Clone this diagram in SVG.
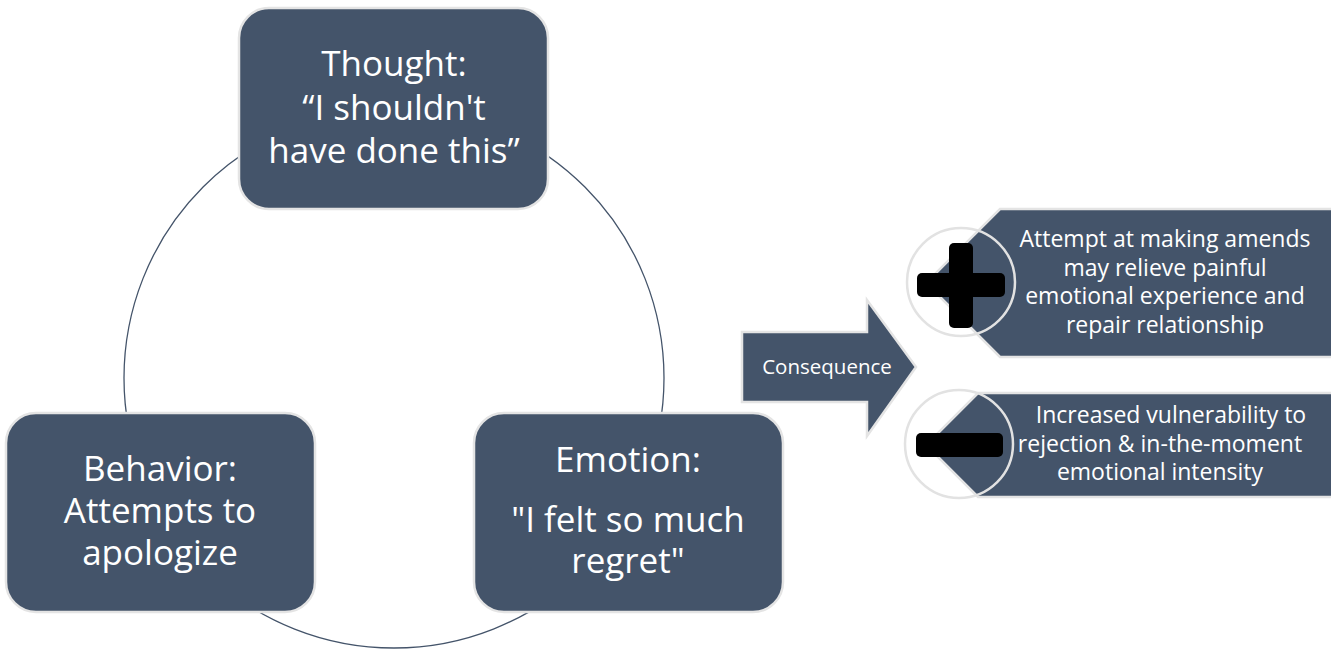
<svg xmlns="http://www.w3.org/2000/svg" width="1331" height="651" viewBox="0 0 1331 651">
  <style>
    .box { fill: #44546a; stroke: #e4e4e4; stroke-width: 2.5; }
    .big { font-family: "Open Sans", "Noto Sans", sans-serif; font-size: 35px; fill: #ffffff; text-anchor: middle; }
    .mid { font-family: "Open Sans", "Noto Sans", sans-serif; font-size: 23px; fill: #ffffff; text-anchor: middle; }
    .small { font-family: "Open Sans", "Noto Sans", sans-serif; font-size: 20.5px; fill: #ffffff; text-anchor: middle; }
    .ring { fill: none; stroke: #e2e2e2; stroke-width: 2.5; }
    .sign { fill: #000000; }
    .cycle { fill: none; stroke: #44546a; stroke-width: 1.3; }
  </style>
  <rect width="1331" height="651" fill="#ffffff"/>

  <!-- cycle linking the three boxes -->
  <g id="connectors">
    <circle class="cycle" cx="394" cy="378" r="270"/>
  </g>

  <g id="thought">
    <rect class="box" x="239" y="8" width="309" height="201" rx="30"/>
    <text class="big" x="394" y="76">Thought:</text>
    <text class="big" x="394" y="120">“I shouldn't</text>
    <text class="big" x="394" y="163">have done this”</text>
  </g>

  <g id="behavior">
    <rect class="box" x="6" y="413" width="309" height="199" rx="30"/>
    <text class="big" x="160" y="481">Behavior:</text>
    <text class="big" x="160" y="523">Attempts to</text>
    <text class="big" x="160" y="565">apologize</text>
  </g>

  <g id="emotion">
    <rect class="box" x="474" y="413" width="309" height="199" rx="30"/>
    <text class="big" x="628" y="472">Emotion:</text>
    <text class="big" x="628" y="532">"I felt so much</text>
    <text class="big" x="628" y="573">regret"</text>
  </g>

  <g id="consequence">
    <polygon class="box" stroke-width="2" points="742,332 867,332 867,300 916,367 867,436 867,402 742,402"/>
    <text class="small" x="827" y="374">Consequence</text>
  </g>

  <g id="positive">
    <polygon class="box" stroke-width="2" points="1000,209 1336,209 1336,357 1000,357 926,283"/>
    <circle class="ring" cx="961" cy="282" r="54"/>
    <rect class="sign" x="917" y="273" width="88" height="24" rx="5"/>
    <rect class="sign" x="949" y="243" width="24" height="85" rx="5"/>
    <text class="mid" x="1165" y="247">Attempt at making amends</text>
    <text class="mid" x="1165" y="275.5">may relieve painful</text>
    <text class="mid" x="1165" y="304">emotional experience and</text>
    <text class="mid" x="1165" y="332.5">repair relationship</text>
  </g>

  <g id="negative">
    <polygon class="box" stroke-width="2" points="978,393 1336,393 1336,497 978,497 926,445"/>
    <circle class="ring" cx="959" cy="444" r="54"/>
    <rect class="sign" x="916" y="433" width="87" height="24" rx="5"/>
    <text class="mid" x="1171" y="423">Increased vulnerability to</text>
    <text class="mid" x="1160" y="451.5">rejection &amp; in-the-moment</text>
    <text class="mid" x="1160" y="480">emotional intensity</text>
  </g>
</svg>
